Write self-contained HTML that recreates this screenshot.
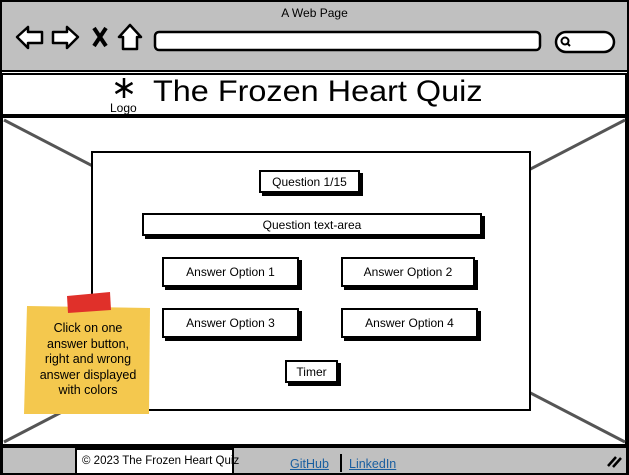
<!DOCTYPE html>
<html><head><style>
body{margin:0;width:629px;height:475px;overflow:hidden;background:#fff;font-family:"Liberation Sans",sans-serif;}
.a{position:absolute;}
.btn{position:absolute;background:#fff;border:2px solid #000;box-shadow:3px 3px 0 #000;font-size:12px;display:flex;align-items:center;justify-content:center;box-sizing:border-box;}
</style></head><body>
<svg class="a" style="left:0;top:0" width="629" height="475">
<rect x="1" y="1" width="627" height="473" fill="#fff" stroke="#000" stroke-width="2"/>
<rect x="2" y="2" width="625" height="69" fill="#c0c0c0"/>
<line x1="2" y1="71" x2="627" y2="71" stroke="#000" stroke-width="2"/>
<rect x="2" y="74" width="624" height="41" fill="#fff" stroke="#000" stroke-width="2"/>
<rect x="2" y="117" width="624" height="328" fill="#fff" stroke="#000" stroke-width="2"/>
<line x1="4" y1="120" x2="625" y2="442" stroke="#555" stroke-width="3"/>
<line x1="625" y1="120" x2="4" y2="442" stroke="#555" stroke-width="3"/>
<rect x="2" y="447" width="625" height="27" fill="#c0c0c0" stroke="#000" stroke-width="2"/>
<rect x="76" y="449" width="157" height="25" fill="#fff" stroke="#000" stroke-width="2"/>
<line x1="341" y1="454" x2="341" y2="472" stroke="#000" stroke-width="2"/>
<rect x="92" y="152" width="438" height="258" fill="#fff" stroke="#000" stroke-width="2"/>
<path d="M17 37 L28 27 L28 32 L42 32 L42 43 L28 43 L28 48 Z" fill="#fff" stroke="#000" stroke-width="2.5" stroke-linejoin="round"/>
<path d="M78 37 L67 27 L67 32 L53 32 L53 43 L67 43 L67 48 Z" fill="#fff" stroke="#000" stroke-width="2.5" stroke-linejoin="round"/>
<path d="M94 28 L106 46 M106 28 L94 46" stroke="#000" stroke-width="4"/>
<path d="M130 25 L119 37 L123 37 L123 49 L137 49 L137 37 L141 37 Z" fill="#fff" stroke="#000" stroke-width="2.5" stroke-linejoin="round"/>
<rect x="155" y="32" width="385" height="18" rx="4" fill="#fff" stroke="#000" stroke-width="2.5"/>
<rect x="556" y="32" width="58" height="20" rx="10" fill="#fff" stroke="#000" stroke-width="2.5"/>
<circle cx="565" cy="41" r="3.5" fill="none" stroke="#000" stroke-width="2"/>
<line x1="567" y1="43" x2="570" y2="46" stroke="#000" stroke-width="2"/>
<path d="M608 466 L616 457 M613 467 L621 458" stroke="#000" stroke-width="2.5"/>
<path d="M124 78 L124 98 M115.5 83 L132.5 93 M132.5 83 L115.5 93" stroke="#000" stroke-width="2.5"/>
<path d="M27 306 L150 308 L149 414 L24 414 Z" fill="#f4c84e"/>
<path d="M67 296 L110 292 L111 310 L68 313 Z" fill="#e0302a"/>
</svg>
<div class="a" style="left:0;top:6px;width:629px;text-align:center;font-size:12px">A Web Page</div>
<div class="a" style="left:110px;top:101px;font-size:12px">Logo</div>
<div class="a" style="left:153px;top:75px;font-size:30px;transform:scaleX(1.08);transform-origin:left">The Frozen Heart Quiz</div>
<div class="btn" style="left:259px;top:170px;width:101px;height:23px">Question 1/15</div>
<div class="btn" style="left:142px;top:213px;width:340px;height:23px">Question text-area</div>
<div class="btn" style="left:162px;top:257px;width:137px;height:30px">Answer Option 1</div>
<div class="btn" style="left:341px;top:257px;width:134px;height:30px">Answer Option 2</div>
<div class="btn" style="left:162px;top:308px;width:137px;height:30px">Answer Option 3</div>
<div class="btn" style="left:341px;top:308px;width:137px;height:30px">Answer Option 4</div>
<div class="btn" style="left:285px;top:360px;width:53px;height:23px">Timer</div>
<div class="a" style="left:28px;top:321px;width:120px;text-align:center;font-size:12.5px;line-height:15.5px">Click on one<br>answer button,<br>right and wrong<br>answer displayed<br>with colors</div>
<div class="a" style="left:82px;top:455px;font-size:11.5px">© 2023 The Frozen Heart Quiz</div>
<div class="a" style="left:290px;top:457px;font-size:12.5px;color:#1a5fa0;text-decoration:underline">GitHub</div>
<div class="a" style="left:349px;top:457px;font-size:12.5px;color:#1a5fa0;text-decoration:underline">LinkedIn</div>
</body></html>
